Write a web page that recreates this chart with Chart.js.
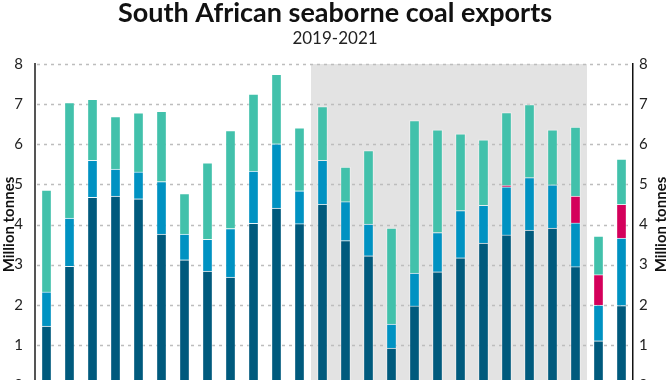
<!DOCTYPE html>
<html>
<head>
<meta charset="utf-8">
<script src="https://cdn.jsdelivr.net/npm/chart.js@4"></script>
<style>
  html, body { margin: 0; padding: 0; background: #fff; overflow: hidden; }
  #wrap { position: absolute; left: 0; top: 0; width: 670px; height: 406px; }
</style>
</head>
<body>
<div id="wrap"><canvas id="c" width="670" height="406"></canvas></div>
<script>
const months = ["Jan 2019","Feb 2019","Mar 2019","Apr 2019","May 2019","Jun 2019","Jul 2019","Aug 2019","Sep 2019","Oct 2019","Nov 2019","Dec 2019",
                "Jan 2020","Feb 2020","Mar 2020","Apr 2020","May 2020","Jun 2020","Jul 2020","Aug 2020","Sep 2020","Oct 2020","Nov 2020","Dec 2020",
                "Jan 2021","Feb 2021"];
const seriesNames = ["Destination 1", "Destination 2", "Destination 3", "Other"];
const dest1 = [1.47,2.96,4.68,4.71,4.64,3.76,3.12,2.84,2.69,4.03,4.41,4.02,4.50,3.60,3.22,0.92,1.97,2.82,3.17,3.54,3.74,3.86,3.91,2.95,1.10,1.98];
const dest2 = [0.85,1.20,0.92,0.67,0.67,1.31,0.64,0.79,1.21,1.30,1.60,0.82,1.10,0.97,0.79,0.60,0.82,0.98,1.18,0.94,1.20,1.31,1.08,1.09,0.89,1.68];
const dest3 = [null,null,null,null,null,null,null,null,null,null,null,null,null,null,null,null,null,null,null,null,0.03,null,null,0.67,0.76,0.84];
const other = [2.54,2.88,1.52,1.31,1.47,1.75,1.01,1.91,2.44,1.92,1.73,1.57,1.34,0.86,1.83,2.39,3.80,2.56,1.91,1.63,1.82,1.82,1.37,1.72,0.96,1.13];
const yTicks = [0,1,2,3,4,5,6,7,8];
const shadeFrom = "Jan 2020", shadeTo = "Dec 2020";
const yTitle = "Million tonnes";

const FONT = "Lato, 'Noto Sans', sans-serif";

const decorPlugin = {
  id: 'decor',
  beforeDraw(chart) {
    const x = chart.scales.x, a = chart.chartArea, ctx = chart.ctx;
    const i0 = months.indexOf(shadeFrom), i1 = months.indexOf(shadeTo);
    const half = (x.getPixelForValue(1) - x.getPixelForValue(0)) / 2;
    const l = x.getPixelForValue(i0) - half, r = x.getPixelForValue(i1) + half;
    ctx.save();
    ctx.fillStyle = '#e3e3e3';
    ctx.fillRect(l, a.top, r - l, a.bottom - a.top);
    ctx.restore();
  },
  beforeDatasetsDraw(chart) {
    const y = chart.scales.y, a = chart.chartArea, ctx = chart.ctx;
    ctx.save();
    ctx.strokeStyle = '#bdbdbd';
    ctx.lineWidth = 1.5;
    ctx.setLineDash([3, 4]);
    yTicks.forEach(v => {
      if (v === 0) return;
      const py = Math.round(y.getPixelForValue(v)) + 0.5;
      ctx.beginPath();
      ctx.moveTo(a.left + 2, py);
      ctx.lineTo(a.right - 1, py);
      ctx.stroke();
    });
    ctx.restore();
  },
  afterDraw(chart) {
    const a = chart.chartArea, ctx = chart.ctx;
    ctx.save();
    ctx.fillStyle = '#111';
    ctx.font = "bold 15px " + FONT;
    ctx.textAlign = 'center';
    ctx.textBaseline = 'middle';
    ctx.translate(661, (a.top + a.bottom) / 2);
    ctx.rotate(-Math.PI / 2);
    ctx.fillText(yTitle, 0, 0);
    ctx.restore();
  }
};

const border = 'rgba(255,255,255,0.45)';
function ds(label, data, color) {
  return { label, data, backgroundColor: color, borderColor: border, borderWidth: 1, barThickness: 10, yAxisID: 'y' };
}

new Chart(document.getElementById('c'), {
  type: 'bar',
  data: {
    labels: months,
    datasets: [
      ds(seriesNames[0], dest1, '#005a7d'),
      ds(seriesNames[1], dest2, '#0092c2'),
      ds(seriesNames[2], dest3, '#d4005b'),
      ds(seriesNames[3], other, '#42c1ab')
    ]
  },
  options: {
    responsive: false,
    animation: false,
    layout: { padding: { top: 0, bottom: 15, left: 0, right: 0 } },
    plugins: {
      legend: { display: false },
      tooltip: { enabled: false },
      title: {
        display: true,
        text: 'South African seaborne coal exports',
        color: '#111',
        font: { family: FONT, size: 27, weight: 'bold', lineHeight: 1.0 },
        padding: { top: 0, bottom: 0 }
      },
      subtitle: {
        display: true,
        text: '2019-2021',
        color: '#222',
        font: { family: FONT, size: 17, lineHeight: 1.2 },
        padding: { top: 1, bottom: 15.6 }
      }
    },
    scales: {
      x: {
        display: false,
        stacked: true,
        offset: true,
        grid: { display: false }
      },
      y: {
        stacked: true,
        position: 'left',
        min: 0, max: 8,
        afterBuildTicks: (s) => { s.ticks = yTicks.map(v => ({ value: v })); },
        afterFit: (s) => { s.width = 35; },
        ticks: { color: '#222', padding: 12, font: { family: FONT, size: 15 } },
        grid: { display: false, drawTicks: false },
        border: { display: true, color: '#555', width: 2 },
        title: { display: true, text: yTitle, color: '#111', padding: 0,
                 font: { family: FONT, size: 15, weight: 'bold', lineHeight: 1.2 } }
      },
      y2: {
        position: 'right',
        min: 0, max: 8,
        afterBuildTicks: (s) => { s.ticks = yTicks.map(v => ({ value: v })); },
        afterFit: (s) => { s.width = 37; },
        ticks: { color: '#222', padding: 6, font: { family: FONT, size: 15 } },
        grid: { display: false, drawTicks: false },
        border: { display: true, color: '#111', width: 1.5 },
        title: { display: false }
      }
    }
  },
  plugins: [decorPlugin]
});
</script>
</body>
</html>
